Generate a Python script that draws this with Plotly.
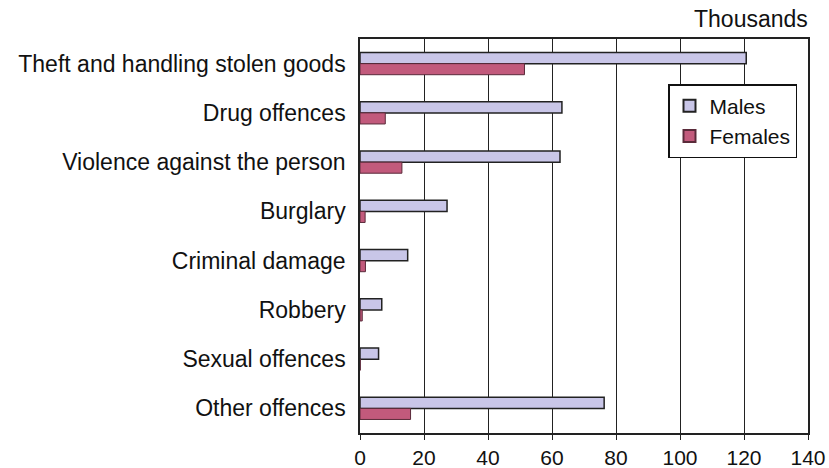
import plotly.graph_objects as go

# Offenders by offence type and sex (thousands)
categories = [
    "Theft and handling stolen goods",
    "Drug offences",
    "Violence against the person",
    "Burglary",
    "Criminal damage",
    "Robbery",
    "Sexual offences",
    "Other offences",
]
males = [120.7, 63.1, 62.5, 27.2, 14.9, 6.8, 5.8, 76.3]
females = [51.4, 7.9, 13.1, 1.6, 1.7, 0.7, 0.1, 15.8]
x_ticks = [0, 20, 40, 60, 80, 100, 120, 140]

FONT = "Liberation Sans, Arial, sans-serif"
W, H = 829, 468
ML, MR, MT, MB = 360, 21, 39, 35

fig = go.Figure()
fig.add_trace(go.Bar(
    y=categories, x=males, name="Males", orientation="h",
    marker=dict(color="#c9c6e8", line=dict(color="#222222", width=1.5)),
))
fig.add_trace(go.Bar(
    y=categories, x=females, name="Females", orientation="h",
    marker=dict(color="#c25a7c", line=dict(color="#5a2a3a", width=1)),
))

fig.update_layout(
    width=W, height=H,
    margin=dict(l=ML, r=MR, t=MT, b=MB),
    paper_bgcolor="white", plot_bgcolor="white",
    barmode="group", bargap=0.55, bargroupgap=0,
    font=dict(family=FONT, size=19, color="#111111"),
    showlegend=True,
    legend=dict(
        x=(668 - ML) / (W - ML - MR), y=1 - (84 - MT) / (H - MT - MB),
        xanchor="left", yanchor="top",
        bgcolor="white", bordercolor="#111111", borderwidth=1.5,
        font=dict(size=21), tracegroupgap=0, itemsizing="constant",
    ),
)

fig.update_xaxes(
    range=[0, 140], tickvals=x_ticks, ticktext=[str(v) for v in x_ticks],
    showgrid=True, gridcolor="#222222", gridwidth=1.2,
    showline=True, linecolor="#222222", linewidth=1.5, mirror=True,
    ticks="outside", ticklen=5, tickcolor="#222222",
    zeroline=False, tickfont=dict(size=21),
    automargin=False, fixedrange=True,
)
fig.update_yaxes(
    autorange="reversed", showgrid=False,
    showline=True, linecolor="#222222", linewidth=1.5, mirror=True,
    ticks="", ticklabelstandoff=8, tickfont=dict(size=23),
    automargin=False, fixedrange=True,
)

fig.add_annotation(
    text="Thousands", xref="paper", yref="paper",
    x=1.0, y=1.0, xanchor="right", yanchor="bottom", yshift=5, xshift=2,
    showarrow=False, font=dict(size=23, color="#111111"),
)

fig.write_html("out.html")
